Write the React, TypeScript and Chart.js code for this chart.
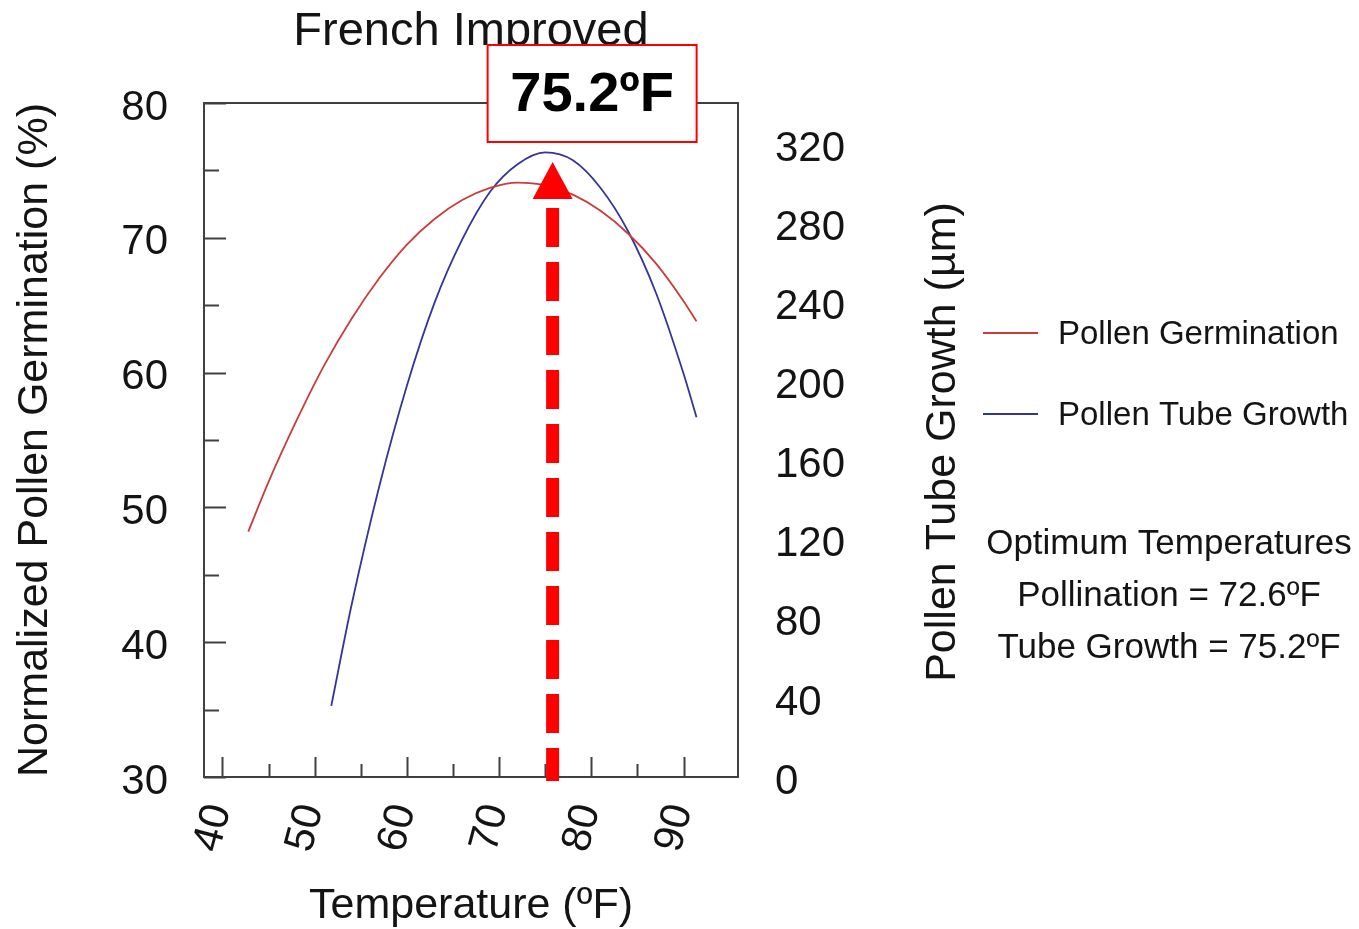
import { useEffect, useRef } from 'react';
import { Chart, registerables } from 'chart.js';

Chart.register(...registerables);

// ---- data ----
const TITLE = 'French Improved';
const X_TITLE = 'Temperature (ºF)';
const Y_TITLE = 'Normalized Pollen Germination (%)';
const Y1_TITLE = 'Pollen Tube Growth (µm)';
const SERIES_NAMES = ['Pollen Germination', 'Pollen Tube Growth'];
const NOTE_LINES = ['Optimum Temperatures', 'Pollination = 72.6ºF', 'Tube Growth = 75.2ºF'];
const CALLOUT_TEXT = '75.2ºF';
const CALLOUT_TEMP = 75.8; // where the red arrow sits on the x axis

const X_MIN = 38;
const X_MAX = 95.9;
const X_TICKS = [40, 50, 60, 70, 80, 90];
const Y_MIN = 30;
const Y_MAX = 80;
const Y_TICKS = [30, 40, 50, 60, 70, 80];
const Y1_MIN = 0;
const Y1_MAX = 341;
const Y1_TICKS = [0, 40, 80, 120, 160, 200, 240, 280, 320];

const GERM_TEMPS = [42.8, 45, 48, 51, 54, 57, 60, 63, 66, 69, 72, 75, 78, 81, 84, 87, 90, 91.4];
const GERM_VALUES = [48.2, 51.9, 56.4, 60.5, 64.0, 67.0, 69.5, 71.4, 72.8, 73.7, 74.1, 73.9, 73.2, 72.0, 70.3, 68.1, 65.3, 63.8];
const TUBE_TEMPS = [51.8, 54, 57, 60, 63, 66, 69, 72, 75, 78, 81, 84, 87, 90, 91.4];
const TUBE_VALUES = [36, 87, 147, 198, 240, 272, 296, 310, 316, 312, 298, 276, 245, 204, 182];

// ---- styles ----
const FONT = '"Liberation Sans", Arial, Helvetica, sans-serif';
const TEXT = '#141414';
const AXIS = '#404040';
const RED_LINE = '#cc3b3b';
const BLUE_LINE = '#34349a';
const ARROW_RED = '#ff0000';

const decor = {
  id: 'decor',
  beforeDatasetsDraw(chart: any) {
    const { ctx, chartArea: a, scales } = chart;
    const x = scales.x;
    const y = scales.y;
    ctx.save();
    ctx.strokeStyle = AXIS;
    ctx.lineWidth = 2;
    ctx.strokeRect(a.left, a.top, a.right - a.left, a.bottom - a.top);
    ctx.beginPath();
    for (let v = Y_MIN; v <= Y_MAX; v += 5) {
      const py = Math.round(y.getPixelForValue(v)) + 0.5;
      const len = v % 10 === 0 ? 22 : 15;
      ctx.moveTo(a.left, py);
      ctx.lineTo(a.left + len, py);
    }
    for (let v = 40; v <= 90; v += 5) {
      const px = Math.round(x.getPixelForValue(v)) + 0.5;
      const len = v % 10 === 0 ? 20 : 13;
      ctx.moveTo(px, a.bottom);
      ctx.lineTo(px, a.bottom - len);
    }
    ctx.stroke();
    ctx.restore();
  },
  afterDraw(chart: any) {
    const { ctx, chartArea: a, scales } = chart;
    const x = scales.x;
    ctx.save();

    // right axis title (reads bottom to top)
    ctx.fillStyle = TEXT;
    ctx.font = `43px ${FONT}`;
    ctx.textAlign = 'center';
    ctx.textBaseline = 'middle';
    ctx.save();
    ctx.translate(943, (a.top + a.bottom) / 2 + 2);
    ctx.rotate(-Math.PI / 2);
    ctx.fillText(Y1_TITLE, 0, 0);
    ctx.restore();

    // legend
    const legendColors = [RED_LINE, BLUE_LINE];
    const legendY = [333, 414];
    ctx.font = `33px ${FONT}`;
    ctx.textAlign = 'left';
    SERIES_NAMES.forEach((name, i) => {
      ctx.strokeStyle = legendColors[i];
      ctx.lineWidth = 1.8;
      ctx.beginPath();
      ctx.moveTo(983, legendY[i]);
      ctx.lineTo(1038, legendY[i]);
      ctx.stroke();
      ctx.fillStyle = TEXT;
      ctx.fillText(name, 1058, legendY[i] + 2);
    });

    // optimum temperatures note
    ctx.font = `35px ${FONT}`;
    ctx.textAlign = 'center';
    const noteY = [544, 596, 648];
    NOTE_LINES.forEach((t, i) => ctx.fillText(t, 1169, noteY[i]));

    // dashed red arrow
    const ax = x.getPixelForValue(CALLOUT_TEMP);
    ctx.strokeStyle = ARROW_RED;
    ctx.lineWidth = 13;
    ctx.lineCap = 'butt';
    ctx.setLineDash([39, 15]);
    ctx.beginPath();
    ctx.moveTo(ax, 208);
    ctx.lineTo(ax, a.bottom + 4);
    ctx.stroke();
    ctx.setLineDash([]);
    ctx.fillStyle = ARROW_RED;
    ctx.beginPath();
    ctx.moveTo(ax, 162);
    ctx.lineTo(ax + 20, 199);
    ctx.lineTo(ax - 20, 199);
    ctx.closePath();
    ctx.fill();

    // callout box
    const bx = ax - 65;
    const by = 45;
    const bw = 209;
    const bh = 97;
    ctx.fillStyle = '#ffffff';
    ctx.fillRect(bx, by, bw, bh);
    ctx.strokeStyle = ARROW_RED;
    ctx.lineWidth = 2;
    ctx.strokeRect(bx, by, bw, bh);
    ctx.fillStyle = '#000000';
    ctx.font = `bold 56px ${FONT}`;
    ctx.textAlign = 'center';
    ctx.textBaseline = 'middle';
    ctx.fillText(CALLOUT_TEXT, bx + bw / 2, by + bh / 2 + 2);

    ctx.restore();
  },
};

export default function App() {
  const ref = useRef<HTMLCanvasElement>(null);
  useEffect(() => {
    const chart = new Chart(ref.current as HTMLCanvasElement, {
      type: 'line',
      data: {
        datasets: [
          {
            label: SERIES_NAMES[0],
            data: GERM_TEMPS.map((t, i) => ({ x: t, y: GERM_VALUES[i] })),
            yAxisID: 'y',
            borderColor: RED_LINE,
            borderWidth: 1.8,
            pointRadius: 0,
            cubicInterpolationMode: 'monotone',
            fill: false,
          },
          {
            label: SERIES_NAMES[1],
            data: TUBE_TEMPS.map((t, i) => ({ x: t, y: TUBE_VALUES[i] })),
            yAxisID: 'y1',
            borderColor: BLUE_LINE,
            borderWidth: 1.8,
            pointRadius: 0,
            cubicInterpolationMode: 'monotone',
            fill: false,
          },
        ],
      },
      options: {
        responsive: false,
        animation: false,
        events: [],
        layout: { padding: 0 },
        plugins: {
          legend: { display: false },
          tooltip: { enabled: false },
          title: {
            display: true,
            text: TITLE,
            fullSize: false,
            color: TEXT,
            font: { family: FONT, size: 47, weight: 'normal', lineHeight: 1.2 },
            padding: { top: 4, bottom: 42.6 },
          },
        },
        scales: {
          x: {
            type: 'linear',
            position: 'bottom',
            min: X_MIN,
            max: X_MAX,
            afterBuildTicks: (s: any) => {
              s.ticks = X_TICKS.map((v) => ({ value: v }));
            },
            afterFit: (s: any) => {
              s.height = 152;
            },
            ticks: {
              autoSkip: false,
              minRotation: 75,
              maxRotation: 75,
              padding: 22,
              labelOffset: -3,
              color: TEXT,
              font: { family: FONT, size: 42 },
            },
            grid: { display: false, drawTicks: false },
            border: { display: false },
            title: {
              display: true,
              text: X_TITLE,
              color: TEXT,
              font: { family: FONT, size: 43, lineHeight: 1.0 },
              padding: { top: 0, bottom: 1.5 },
            },
          },
          y: {
            position: 'left',
            min: Y_MIN,
            max: Y_MAX,
            afterBuildTicks: (s: any) => {
              s.ticks = Y_TICKS.map((v) => ({ value: v }));
            },
            afterFit: (s: any) => {
              s.width = 204;
            },
            ticks: {
              padding: 36,
              labelOffset: 5,
              color: TEXT,
              font: { family: FONT, size: 42 },
            },
            grid: { display: false, drawTicks: false },
            border: { display: false },
            title: {
              display: true,
              text: Y_TITLE,
              color: TEXT,
              font: { family: FONT, size: 43, lineHeight: 1.2 },
              padding: { top: 9, bottom: 0 },
            },
          },
          y1: {
            position: 'right',
            min: Y1_MIN,
            max: Y1_MAX,
            afterBuildTicks: (s: any) => {
              s.ticks = Y1_TICKS.map((v) => ({ value: v }));
            },
            afterFit: (s: any) => {
              s.width = 621;
            },
            ticks: {
              padding: 37,
              labelOffset: 5,
              color: TEXT,
              font: { family: FONT, size: 42 },
            },
            grid: { display: false, drawTicks: false },
            border: { display: false },
          },
        },
      } as any,
      plugins: [decor],
    });
    return () => chart.destroy();
  }, []);
  return (
    <canvas
      ref={ref}
      width={1359}
      height={929}
      style={{ position: 'absolute', left: 0, top: 0, width: 1359, height: 929 }}
    />
  );
}
